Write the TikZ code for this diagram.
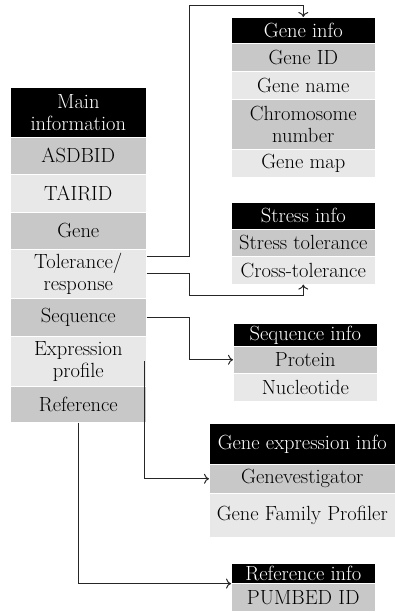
\documentclass[tikz,border=0pt]{standalone}
\usetikzlibrary{calc,arrows.meta}
\definecolor{darkcell}{RGB}{200,200,200}
\definecolor{lightcell}{RGB}{232,232,232}
\tikzset{
  cell/.style={anchor=north west, inner sep=0pt, align=center, draw=white, line width=0.6pt,
    font=\fontsize{20.5}{22}\selectfont},
  head/.style={cell, fill=black, text=white},
  dark/.style={cell, fill=darkcell},
  light/.style={cell, fill=lightcell},
  link/.style={draw=black!85, line width=1pt, -{To[length=5pt,width=10pt]}},
}
\begin{document}
\begin{tikzpicture}[x=1pt, y=-1pt]
        \useasboundingbox (0,0) rectangle (395,613);
        % main column
        \node[head,  minimum width=136pt, minimum height=50pt] (main)   at (10,87)  {Main\\information};
        \node[dark,  minimum width=136pt, minimum height=37pt] (asdbid) at (10,137) {ASDBID};
        \node[light, minimum width=136pt, minimum height=38pt] (tairid) at (10,174) {TAIRID};
        \node[dark,  minimum width=136pt, minimum height=37pt] (gene)   at (10,212) {Gene};
        \node[light, minimum width=136pt, minimum height=49pt] (tol)    at (10,249) {Tolerance/\\response};
        \node[dark,  minimum width=136pt, minimum height=38pt] (seq)    at (10,298) {Sequence};
        \node[light, minimum width=136pt, minimum height=50pt] (expr)   at (10,336) {Expression\\profile};
        \node[dark,  minimum width=136pt, minimum height=36pt] (ref)    at (10,386) {Reference};

        % gene info
        \node[head,  minimum width=144pt, minimum height=26pt] (geneinfo) at (231,17)  {Gene info};
        \node[dark,  minimum width=144pt, minimum height=28pt] (geneid)   at (231,43)  {Gene ID};
        \node[light, minimum width=144pt, minimum height=28pt] (genename) at (231,71)  {Gene name};
        \node[dark,  minimum width=144pt, minimum height=50pt] (chrom)    at (231,99)  {Chromosome\\number};
        \node[light, minimum width=144pt, minimum height=28pt] (genemap)  at (231,149) {Gene map};

        % stress info
        \node[head,  minimum width=144pt, minimum height=27pt] (stressinfo) at (231,202) {Stress info};
        \node[dark,  minimum width=144pt, minimum height=27pt] (stresstol)  at (231,229) {Stress tolerance};
        \node[light, minimum width=144pt, minimum height=28pt] (cross)      at (231,256) {Cross-tolerance};

        % sequence info
        \node[head,  minimum width=144pt, minimum height=23pt] (seqinfo) at (233,323) {Sequence info};
        \node[dark,  minimum width=144pt, minimum height=27pt] (protein) at (233,346) {Protein};
        \node[light, minimum width=144pt, minimum height=28pt] (nucleo)  at (233,373) {Nucleotide};

        % gene expression info
        \node[head,  minimum width=186pt, minimum height=41pt] (exprinfo) at (209,423) {Gene expression info};
        \node[dark,  minimum width=186pt, minimum height=29pt] (genevest) at (209,464) {Genevestigator};
        \node[light, minimum width=186pt, minimum height=44pt] (profiler) at (209,493) {Gene Family Profiler};

        % reference info
        \node[head,  minimum width=144pt, minimum height=20pt] (refinfo) at (231,563) {Reference info};
        \node[dark,  minimum width=144pt, minimum height=28pt] (pumbed)  at (231,583) {PUMBED ID};

        % links
        \draw[link] ($(tol.north east)+(0,7)$) -| ($(geneinfo.north)+(-114,-12)$) -| (geneinfo.north);
        \draw[link] (tol.east) -- ++(43,0) |- ($(cross.south)+(0,11)$) -- (cross.south);
        \draw[link] (seq.east) -- ++(43,0) |- (protein.west);
        \draw[link] ($(expr.east)+(-2,0)$) |- (genevest.west);
        \draw[link] (ref.south) |- (refinfo.south west);
    \end{tikzpicture}
\end{document}
